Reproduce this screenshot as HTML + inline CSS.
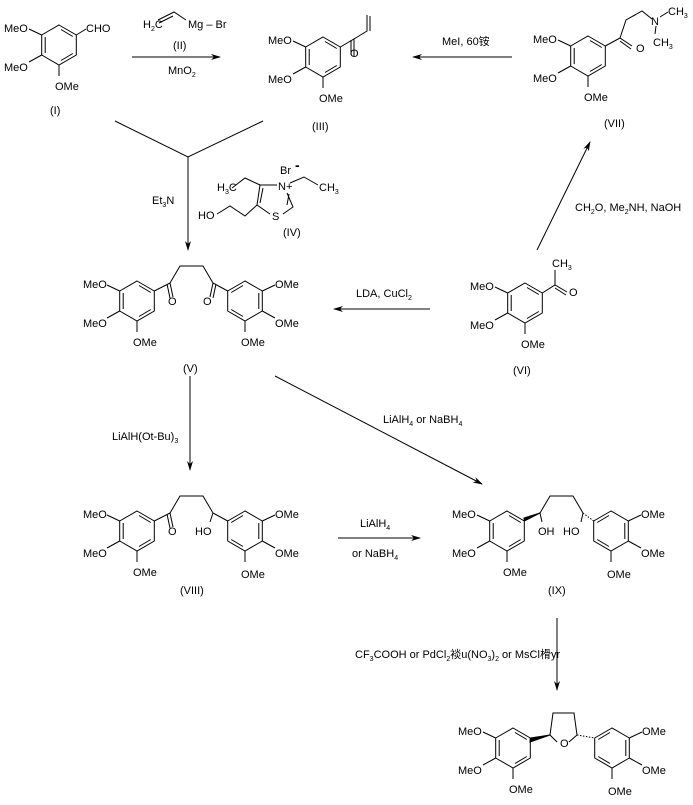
<!DOCTYPE html>
<html><head><meta charset="utf-8"><style>
html,body{margin:0;padding:0;background:#fff;}
svg{display:block;}
text{font-family:"Liberation Sans","Noto Sans CJK SC",sans-serif;font-size:11px;fill:#000;}
.s{font-size:7px;}
</style></head><body>
<svg width="693" height="805" viewBox="0 0 693 805" xmlns="http://www.w3.org/2000/svg">
<defs>
<marker id="ah" markerWidth="10" markerHeight="8" refX="9" refY="4" orient="auto" markerUnits="userSpaceOnUse">
<path d="M0,1 L10,4 L0,7 L3,4 Z" fill="#000"/></marker>
<g id="ringL" fill="none" stroke="#000" stroke-width="1">
<path d="M0,-20 L17.3,-10 L17.3,10 L0,20 L-17.3,10 L-17.3,-10 Z"/>
<path d="M-13.8,-8 L-13.8,8 M2,-15.5 L13.8,-8.5 M13.8,8.5 L2,15.5"/>
<path d="M-17.3,-10 L-30,-16 M-17.3,10 L-30,17 M0,20 L0,31"/>
</g>
<g id="ringR"><use href="#ringL" transform="scale(-1,1)"/></g>
</defs>
<g fill="none" stroke="#000" stroke-width="1">
<!-- I -->
<use href="#ringL" transform="translate(59,45)"/>
<path d="M76.3,35 L86,29"/>
<!-- III -->
<use href="#ringL" transform="translate(323,57)"/>
<path d="M340.3,47 L354,39 L354,56 M351,40 L351,55 M354,39 L367,31 L367,15 M370,31 L370,16"/>
<!-- VII -->
<use href="#ringL" transform="translate(588,56)"/>
<path d="M605.3,46 L620,38 L632,46 M620,41 L631,49 M620,38 L626,20 L642,11 L652,19 M660,17 L668,12 M656,26 L655,34"/>
<!-- VI -->
<use href="#ringL" transform="translate(525,303)"/>
<path d="M542.3,293 L555,285 L567,292 M555,288 L566,295 M555,285 L555,270"/>
<!-- V -->
<use href="#ringL" transform="translate(137,301)"/>
<use href="#ringR" transform="translate(245,301)"/>
<path d="M154.3,291 L170,283 L173,297 M167,284 L170,298 M170,283 L180,266 L203,266 L213,283 L227.7,291 M213,283 L210,297 M216,284 L213,298"/>
<!-- VIII -->
<use href="#ringL" transform="translate(137,531)"/>
<use href="#ringR" transform="translate(245,531)"/>
<path d="M154.3,521 L170,513 L173,527 M167,514 L170,528 M170,513 L180,496 L203,496 L213,513 L227.7,521 M213,513 L210,522"/>
<!-- IX -->
<use href="#ringL" transform="translate(507,531)"/>
<use href="#ringR" transform="translate(611,531)"/>
<path d="M540,513 L550,496 L573,496 L583,513 M540,513 L542,522 M583,513 L581,522"/>
<path d="M524.3,521 L540,513 L524,518 Z" fill="#000"/>
<path d="M583,513 L593.7,521" stroke-dasharray="1.5,1.5"/>
<!-- product -->
<use href="#ringL" transform="translate(513,748)"/>
<use href="#ringR" transform="translate(612,748)"/>
<path d="M550,735 L553,713 L574,713 L577,735 M550,735 L557,742 M577,735 L569,742"/>
<path d="M530.3,738 L550,735 L530,742 Z" fill="#000"/>
<path d="M577,735 L594.7,738" stroke-dasharray="1.5,1.5"/>
<!-- IV thiazolium -->
<path d="M260,185 L277,185 M287,193 L293,207 L283,214 M270,214 L257,205 L260,185 M263,188 L260,203 M289,194 L287,205"/>
<path d="M232,188 L245,178 L260,185 M290,183 L304,177 L318,185 M257,205 L245,216 L230,206 L217,214"/>
<!-- vinyl in reagent II -->
<path d="M158,20 L174,12 L186,20 M159,23 L173,16"/>
<!-- arrows -->
<path d="M132,57 L220,57" marker-end="url(#ah)"/>
<path d="M512,57 L413,57" marker-end="url(#ah)"/>
<path d="M115,121 L188,157 L263,121 M188,157 L188,248" />
<path d="M188,200 L188,250" marker-end="url(#ah)"/>
<path d="M537,250 L590,142" marker-end="url(#ah)"/>
<path d="M430,309 L334,309" marker-end="url(#ah)"/>
<path d="M275,376 L482,484" marker-end="url(#ah)"/>
<path d="M190,376 L190,470" marker-end="url(#ah)"/>
<path d="M338,538 L420,538" marker-end="url(#ah)"/>
<path d="M557,618 L557,690" marker-end="url(#ah)"/>
</g>
<!-- texts -->
<text x="4" y="32">MeO</text><text x="4" y="71">MeO</text><text x="55" y="90">OMe</text><text x="86" y="32">CHO</text><text x="50" y="114">(I)</text>
<text x="143" y="28">H<tspan class="s" dy="3">2</tspan><tspan dy="-3">C</tspan></text><text x="188" y="28">Mg – Br</text>
<text x="173" y="49">(II)</text><text x="168" y="74">MnO<tspan class="s" dy="3">2</tspan></text>
<text x="268" y="44">MeO</text><text x="268" y="83">MeO</text><text x="319" y="102">OMe</text><text x="312" y="130">(III)</text>
<text x="350" y="57">O</text>
<text x="442" y="45">MeI, 60铵</text>
<text x="533" y="43">MeO</text><text x="533" y="82">MeO</text><text x="584" y="101">OMe</text><text x="604" y="127">(VII)</text>
<text x="636" y="52">O</text><text x="651" y="25">N</text>
<text x="668" y="15">CH<tspan class="s" dy="3">3</tspan></text><text x="653" y="46">CH<tspan class="s" dy="3">3</tspan></text>
<text x="152" y="204">Et<tspan class="s" dy="3">3</tspan><tspan dy="-3">N</tspan></text>
<text x="280" y="174">Br</text><text x="295" y="170" style="font-size:14px;font-weight:bold">-</text>
<text x="217" y="191">H<tspan class="s" dy="3">3</tspan><tspan dy="-3">C</tspan></text>
<text x="278" y="190">N+</text><text x="319" y="191">CH<tspan class="s" dy="3">3</tspan></text>
<text x="198" y="219">HO</text><text x="272" y="220">S</text><text x="283" y="236">(IV)</text>
<text x="575" y="211">CH<tspan class="s" dy="3">2</tspan><tspan dy="-3">O, Me</tspan><tspan class="s" dy="3">2</tspan><tspan dy="-3">NH, NaOH</tspan></text>
<text x="552" y="267">CH<tspan class="s" dy="3">3</tspan></text><text x="569" y="296">O</text>
<text x="470" y="290">MeO</text><text x="470" y="329">MeO</text><text x="521" y="348">OMe</text><text x="513" y="374">(VI)</text>
<text x="356" y="297">LDA, CuCl<tspan class="s" dy="3">2</tspan></text>
<text x="83" y="288">MeO</text><text x="83" y="327">MeO</text><text x="133" y="346">OMe</text>
<text x="275" y="288">OMe</text><text x="275" y="327">OMe</text><text x="241" y="346">OMe</text>
<text x="168" y="305">O</text><text x="203" y="305">O</text><text x="183" y="372">(V)</text>
<text x="383" y="423">LiAlH<tspan class="s" dy="3">4</tspan><tspan dy="-3"> or NaBH</tspan><tspan class="s" dy="3">4</tspan></text>
<text x="112" y="440">LiAlH(Ot-Bu)<tspan class="s" dy="3">3</tspan></text>
<text x="83" y="518">MeO</text><text x="83" y="557">MeO</text><text x="133" y="576">OMe</text>
<text x="275" y="518">OMe</text><text x="275" y="557">OMe</text><text x="241" y="578">OMe</text>
<text x="168" y="535">O</text><text x="195" y="535">HO</text><text x="180" y="594">(VIII)</text>
<text x="360" y="527">LiAlH<tspan class="s" dy="3">4</tspan></text><text x="352" y="557">or NaBH<tspan class="s" dy="3">4</tspan></text>
<text x="452" y="518">MeO</text><text x="452" y="557">MeO</text><text x="503" y="576">OMe</text>
<text x="641" y="518">OMe</text><text x="641" y="557">OMe</text><text x="607" y="578">OMe</text>
<text x="538" y="535">OH</text><text x="563" y="535">HO</text><text x="548" y="594">(IX)</text>
<text x="355" y="658">CF<tspan class="s" dy="3">3</tspan><tspan dy="-3">COOH or PdCl</tspan><tspan class="s" dy="3">2</tspan><tspan dy="-3">裧u(NO</tspan><tspan class="s" dy="3">3</tspan><tspan dy="-3">)</tspan><tspan class="s" dy="3">2</tspan><tspan dy="-3"> or MsCl榾yr</tspan></text>
<text x="458" y="735">MeO</text><text x="458" y="774">MeO</text><text x="509" y="793">OMe</text>
<text x="642" y="735">OMe</text><text x="642" y="774">OMe</text><text x="608" y="795">OMe</text>
<text x="560" y="747">O</text>
</svg>
</body></html>
